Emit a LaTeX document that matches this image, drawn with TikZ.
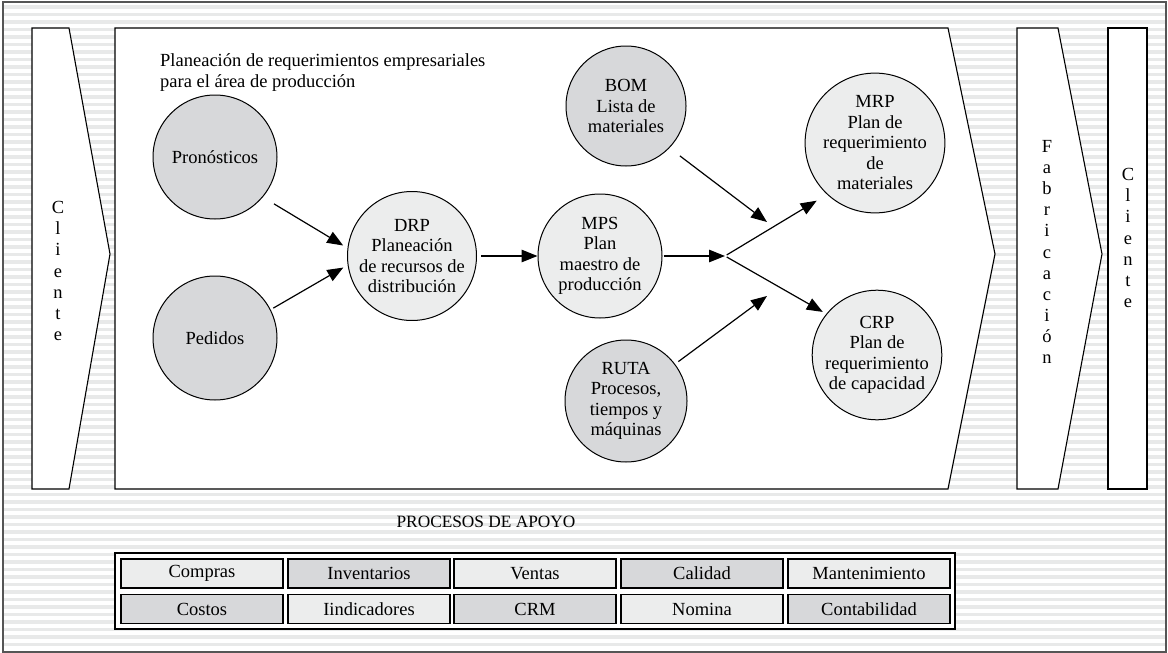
\documentclass[tikz,border=0pt]{standalone}
\usepackage{fontspec}
\setmainfont{Liberation Serif}
\usetikzlibrary{arrows.meta}
\definecolor{stripe}{HTML}{E8E9E9}
\definecolor{cdark}{HTML}{D7D8DA}
\definecolor{clight}{HTML}{ECEDED}
\definecolor{frame}{HTML}{555555}
\begin{document}
\begin{tikzpicture}[x=1pt,y=-1pt,
  every node/.style={font=\fontsize{18.5}{20.5}\selectfont},
  panel/.style={draw, fill=white, line width=1.1pt, line join=miter},
  bub/.style={circle, draw, line width=1pt, minimum size=124pt, inner sep=0pt, align=center},
  bubdark/.style={bub, fill=cdark},
  bublight/.style={bub, fill=clight},
  vtext/.style={align=center, font=\fontsize{18.5}{21.1}\selectfont},
  arr/.style={-{Triangle[length=16pt,width=12.5pt]}, line width=1.2pt},
  cell/.style={draw, line width=1.5pt, minimum width=162pt, minimum height=29pt, inner sep=0pt},
  celllight/.style={cell, fill=clight},
  celldark/.style={cell, fill=cdark}
]
\useasboundingbox (0,0) rectangle (1168,653);
% background stripes
\fill[white] (3,2) rectangle (1166,652);
\foreach \y in {5,12.5,...,648} {
  \fill[stripe] (4,\y) rectangle (1165,\y+3.5);
}
\draw[frame, line width=1.6pt] (3,2) rectangle (1166,652);

% panels
\draw[panel] (32,28) -- (69,28) -- (110,254) -- (69,489) -- (32,489) -- cycle;
\draw[panel] (115,28) -- (948,28) -- (995,254) -- (948,489) -- (115,489) -- cycle;
\draw[panel] (1017,28) -- (1058,28) -- (1102,254) -- (1058,489) -- (1017,489) -- cycle;
\draw[panel] (1108,28) rectangle (1147,489);

\node[vtext] (cl1) at (58,271) {C\\l\\i\\e\\n\\t\\e};
\node[vtext] (fab) at (1047,252) {F\\a\\b\\r\\i\\c\\a\\c\\i\\ó\\n};
\node[vtext] (cl2) at (1128,238) {C\\l\\i\\e\\n\\t\\e};

\node[anchor=base west, align=left, inner sep=0pt] (title) at (160,87)
  {Planeación de requerimientos empresariales\\para el área de producción};

% bubbles
\node[bubdark] (pron) at (215,157) {Pronósticos};
\node[bubdark] (ped) at (215,338) {Pedidos};
\node[bublight] (drp) at (412,256) {DRP\\Planeación\\de recursos de\\distribución};
\node[bublight] (mps) at (600,256) {MPS\\Plan\\maestro de\\producción};
\node[bubdark, minimum size=120pt] (bom) at (626,106) {BOM\\Lista de\\materiales};
\node[bubdark, minimum size=122pt] (ruta) at (626,401) {RUTA\\Procesos,\\tiempos y\\máquinas};
\node[bublight, minimum size=125pt] (mrp) at (875,143) {MRP\\Plan de\\requerimiento\\de\\materiales};
\node[bublight, minimum size=122pt] (crp) at (877,355) {CRP\\Plan de\\requerimiento\\de capacidad};

\coordinate (J) at (725,256);
\coordinate (bomtip) at (767,222);
\coordinate (rutatip) at (767,296);

% connectors
\draw[arr, shorten <=13pt, shorten >=5pt] (pron.-40) -- (drp.173);
\draw[arr, shorten <=3pt, shorten >=5pt] (ped.27) -- (drp.-172);
\draw[arr, shorten <=4pt] (drp) -- (mps);
\draw[arr, shorten <=1pt] (mps) -- (J);
\draw[arr, shorten <=2pt, shorten >=12pt] (J) -- (mrp.-133);
\draw[arr, shorten <=2pt, shorten >=4pt] (J) -- (crp.141);
\draw[arr, shorten <=13pt] (bom.-44) -- (bomtip);
\draw[arr, shorten <=4pt] (ruta.37) -- (rutatip);

% support processes
\node[anchor=base, font=\fontsize{17.3}{19}\selectfont] (apoyo) at (486,527) {PROCESOS DE APOYO};
\draw[fill=white, line width=1.2pt] (115,553) rectangle (955,629);
\node[celllight] (c11) at (202,573.5) {Compras};
\node[celldark]  (c12) at (369,573.5) {Inventarios};
\node[celllight] (c13) at (535,573.5) {Ventas};
\node[celldark]  (c14) at (702,573.5) {Calidad};
\node[celllight] (c15) at (869,573.5) {Mantenimiento};
\node[celldark]  (c21) at (202,609) {Costos};
\node[celllight] (c22) at (369,609) {Iindicadores};
\node[celldark]  (c23) at (535,609) {CRM};
\node[celllight] (c24) at (702,609) {Nomina};
\node[celldark]  (c25) at (869,609) {Contabilidad};
\end{tikzpicture}
\end{document}
